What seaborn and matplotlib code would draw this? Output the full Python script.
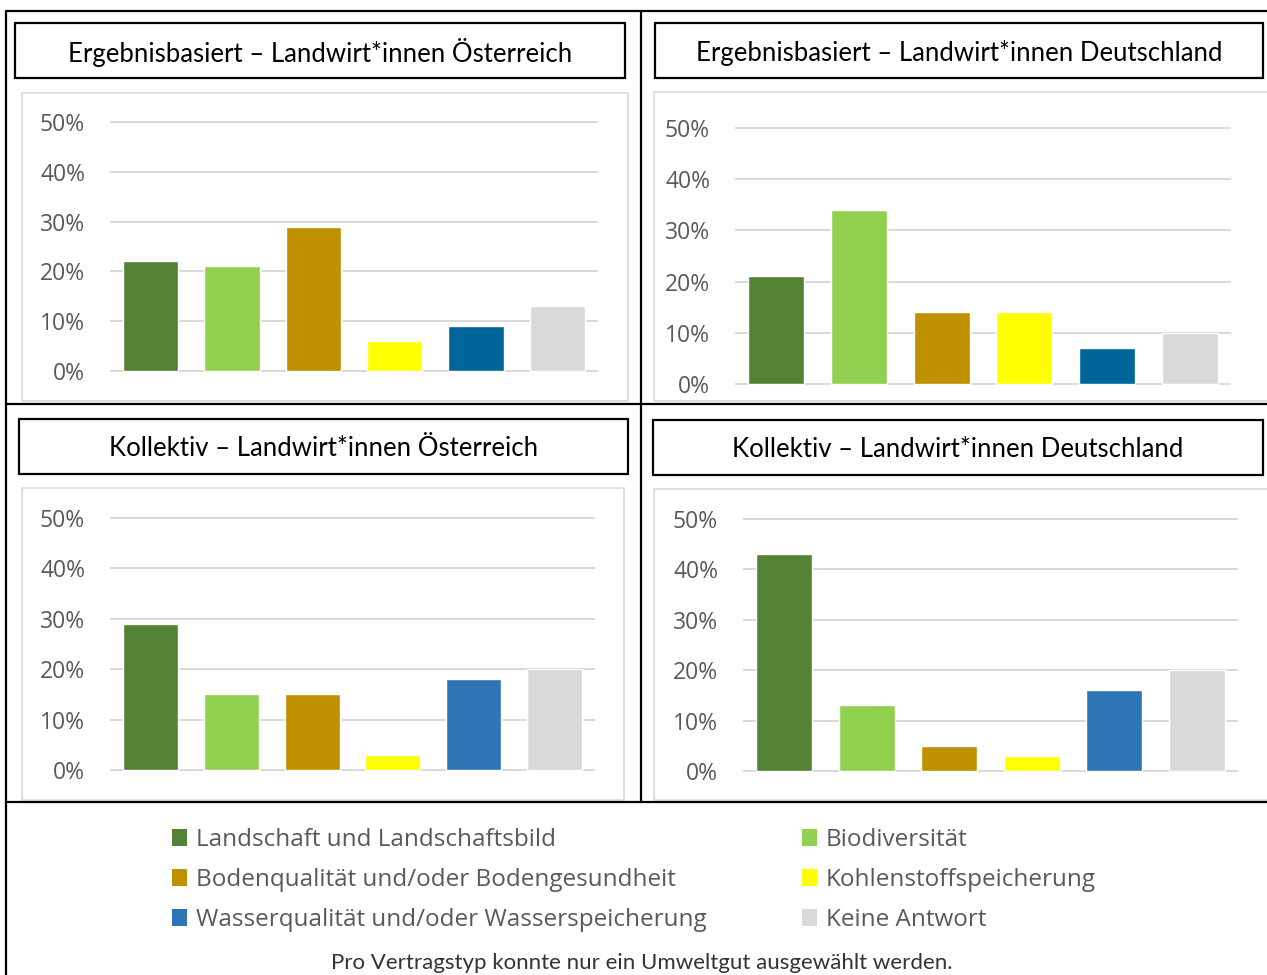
import matplotlib

matplotlib.use("Agg")
import matplotlib.pyplot as plt
import seaborn as sns
from matplotlib.lines import Line2D
from matplotlib.patches import Patch, Rectangle

# Environmental goods (categories) and shares in percent
categories = [
    "Landschaft und Landschaftsbild",
    "Biodiversität",
    "Bodenqualität und/oder Bodengesundheit",
    "Kohlenstoffspeicherung",
    "Wasserqualität und/oder Wasserspeicherung",
    "Keine Antwort",
]
ergebnis_at = [22, 21, 29, 6, 9, 13]
ergebnis_de = [21, 34, 14, 14, 7, 10]
kollektiv_at = [29, 15, 15, 3, 18, 20]
kollektiv_de = [43, 13, 5, 3, 16, 20]

titles = [
    "Ergebnisbasiert – Landwirt*innen Österreich",
    "Ergebnisbasiert – Landwirt*innen Deutschland",
    "Kollektiv – Landwirt*innen Österreich",
    "Kollektiv – Landwirt*innen Deutschland",
]
y_ticks = [0, 10, 20, 30, 40, 50]
footnote = "Pro Vertragstyp konnte nur ein Umweltgut ausgewählt werden."

colors_top = ["#548235", "#92D050", "#BF9000", "#FFFF00", "#006699", "#D9D9D9"]
colors_bottom = ["#548235", "#92D050", "#BF9000", "#FFFF00", "#2E75B6", "#D9D9D9"]

W, H = 1267, 975
sns.set_theme(style="white")
plt.rcParams["font.family"] = ["Open Sans", "DejaVu Sans"]

fig = plt.figure(figsize=(W / 100, H / 100), dpi=100)
fig.patch.set_facecolor("white")


def fx(x):
    return x / W


def fy(y):
    return 1 - y / H


def px_line(x0, y0, x1, y1, color="black", lw=1.6):
    fig.add_artist(Line2D([fx(x0), fx(x1)], [fy(y0), fy(y1)], color=color,
                          lw=lw, transform=fig.transFigure))


def px_box(x0, y0, x1, y1, edge, lw):
    fig.add_artist(Rectangle((fx(x0), fy(y1)), fx(x1) - fx(x0), fy(y0) - fy(y1),
                             fill=False, edgecolor=edge, lw=lw,
                             transform=fig.transFigure))


# panel layout in pixels: title box, chart frame, plot area (x0, x1, y at 0%, y at 50%)
panels = [
    dict(title_box=(15, 23, 625, 78), frame=(22, 93, 628, 401), plot=(110, 598, 371, 122),
         values=ergebnis_at, colors=colors_top),
    dict(title_box=(655, 23, 1263, 78), frame=(654, 92, 1280, 401), plot=(735, 1231, 384, 128),
         values=ergebnis_de, colors=colors_top),
    dict(title_box=(19, 419, 628, 474), frame=(22, 488, 624, 800), plot=(110, 595, 770, 518),
         values=kollektiv_at, colors=colors_bottom),
    dict(title_box=(653, 420, 1263, 475), frame=(654, 489, 1280, 800), plot=(743, 1238, 771, 519),
         values=kollektiv_de, colors=colors_bottom),
]

for title, p in zip(titles, panels):
    bx0, by0, bx1, by1 = p["title_box"]
    px_box(bx0, by0, bx1, by1, "black", 1.6)
    fig.text(fx((bx0 + bx1) / 2), fy((by0 + by1) / 2 + 2), title, ha="center", va="center",
             fontsize=18.5, color="black", family=["Lato", "DejaVu Sans"])

    px_box(*p["frame"], "#D9D9D9", 1.2)

    x0, x1, y_zero, y_fifty = p["plot"]
    pad = 1.5
    ppu = (y_zero - y_fifty) / 50
    bottom = y_zero + pad * ppu
    top = y_fifty - pad * ppu
    ax = fig.add_axes([fx(x0), fy(bottom), fx(x1) - fx(x0), fy(top) - fy(bottom)])
    ax.set_facecolor("none")

    sns.barplot(x=categories, y=p["values"], hue=categories, palette=p["colors"],
                saturation=1, width=0.68, legend=False, ax=ax, zorder=3)

    ax.set_xlim(-0.5, len(categories) - 0.5)
    ax.set_ylim(-pad, 50 + pad)
    ax.set_yticks(y_ticks)
    ax.set_yticklabels([f"{t}%" for t in y_ticks])
    ax.set_xticks([])
    ax.set_xlabel("")
    ax.set_ylabel("")
    for t in y_ticks:
        ax.axhline(t, color="#D9D9D9", lw=1.4, zorder=1)
    ax.tick_params(axis="y", length=0, pad=18, labelsize=16.5, labelcolor="#595959")
    for s in ax.spines.values():
        s.set_visible(False)

# table lines
px_line(6, 11, W, 11)
px_line(6, 11, 6, H)
px_line(641, 11, 641, 802)
px_line(6, 404, W, 404)
px_line(6, 802, W, 802)


# legend in two columns
def legend_column(idx, x, y):
    handles = [Patch(facecolor=colors_bottom[i], edgecolor="none", label=categories[i])
               for i in idx]
    leg = fig.legend(handles=handles, loc="upper left", bbox_to_anchor=(fx(x), fy(y)),
                     frameon=False, fontsize=17.5, labelcolor="#595959",
                     handlelength=0.6, handleheight=0.65, handletextpad=0.38,
                     labelspacing=0.66, borderpad=0, borderaxespad=0)
    return leg


legend_column([0, 2, 4], 172, 828)
legend_column([1, 3, 5], 802, 828)

fig.text(fx(642), fy(963), footnote, ha="center", va="center", fontsize=16,
         color="#333333", family=["Lato", "DejaVu Sans"])

fig.savefig("out.png", dpi=100, facecolor="white")
